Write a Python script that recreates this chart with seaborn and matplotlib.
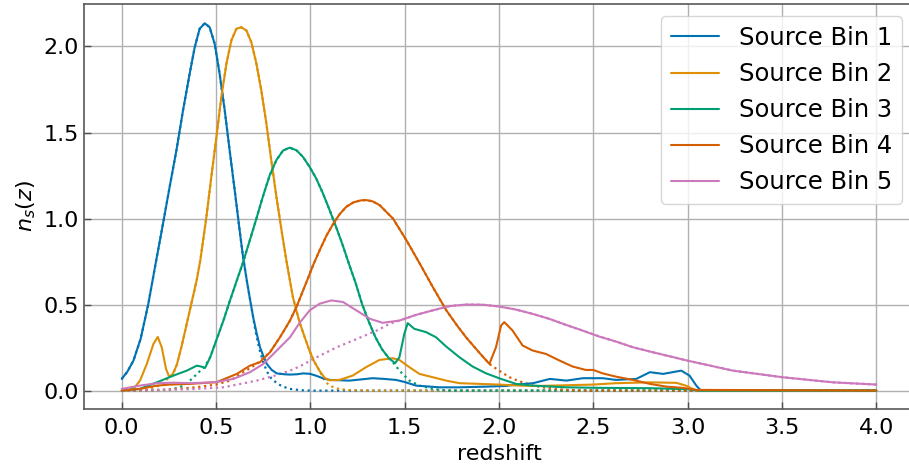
import numpy as np
import matplotlib
matplotlib.use("Agg")
import matplotlib.pyplot as plt
from matplotlib.ticker import FormatStrFormatter
import seaborn as sns

# solid n(z) curves (redshift, n_s)
z_bin1 = [0.0, 0.03, 0.062, 0.1, 0.141, 0.18, 0.219, 0.254, 0.29, 0.325, 0.36, 0.387, 0.413,
          0.44, 0.466, 0.493, 0.519, 0.546, 0.572, 0.599, 0.625, 0.643, 0.663, 0.68, 0.698,
          0.716, 0.733, 0.751, 0.769, 0.795, 0.822, 0.86, 0.892, 0.93, 0.963, 1.0, 1.034,
          1.07, 1.104, 1.207, 1.27, 1.33, 1.39, 1.454, 1.5, 1.56, 1.684, 1.79, 1.93, 2.037,
          2.09, 2.18, 2.27, 2.357, 2.445, 2.55, 2.62, 2.728, 2.8, 2.87, 2.966, 3.01, 3.046,
          3.07, 4.0]
n_bin1 = [0.068, 0.11, 0.174, 0.3, 0.504, 0.74, 0.971, 1.184, 1.397, 1.629, 1.841, 1.996,
          2.103, 2.135, 2.112, 2.015, 1.841, 1.629, 1.397, 1.164, 0.932, 0.778, 0.64, 0.53,
          0.42, 0.33, 0.252, 0.2, 0.155, 0.12, 0.1, 0.095, 0.093, 0.095, 0.1, 0.097, 0.085,
          0.07, 0.062, 0.058, 0.065, 0.072, 0.068, 0.062, 0.05, 0.029, 0.019, 0.019, 0.023,
          0.027, 0.035, 0.043, 0.068, 0.058, 0.072, 0.072, 0.062, 0.068, 0.107, 0.097, 0.116,
          0.087, 0.029, 0.0, 0.0]

z_bin2 = [0.0, 0.062, 0.097, 0.133, 0.168, 0.191, 0.212, 0.235, 0.251, 0.27, 0.292, 0.318,
          0.345, 0.37, 0.398, 0.417, 0.449, 0.475, 0.502, 0.528, 0.555, 0.581, 0.608, 0.634,
          0.661, 0.687, 0.714, 0.74, 0.767, 0.793, 0.82, 0.846, 0.873, 0.908, 0.942, 0.97,
          0.995, 1.02, 1.048, 1.075, 1.1, 1.154, 1.224, 1.295, 1.366, 1.436, 1.472, 1.525,
          1.578, 1.648, 1.72, 1.79, 1.896, 2.0, 2.108, 2.214, 2.355, 2.5, 2.62, 2.8, 2.94,
          2.99, 3.046, 4.0]
n_bin2 = [0.0, 0.01, 0.058, 0.155, 0.271, 0.312, 0.252, 0.126, 0.081, 0.095, 0.15, 0.26,
          0.39, 0.51, 0.645, 0.76, 1.01, 1.242, 1.474, 1.706, 1.9, 2.035, 2.103, 2.112,
          2.093, 2.025, 1.9, 1.745, 1.551, 1.338, 1.126, 0.94, 0.755, 0.54, 0.4, 0.31,
          0.233, 0.17, 0.116, 0.075, 0.06, 0.062, 0.087, 0.136, 0.178, 0.188, 0.178, 0.136,
          0.097, 0.078, 0.058, 0.043, 0.039, 0.035, 0.029, 0.027, 0.031, 0.035, 0.043, 0.048,
          0.045, 0.029, 0.0, 0.0]

z_bin3 = [0.0, 0.097, 0.186, 0.274, 0.345, 0.398, 0.42, 0.442, 0.469, 0.504, 0.539, 0.574,
          0.61, 0.643, 0.678, 0.714, 0.749, 0.784, 0.82, 0.855, 0.89, 0.926, 0.961, 0.996,
          1.03, 1.065, 1.1, 1.135, 1.17, 1.205, 1.24, 1.275, 1.31, 1.345, 1.38, 1.415, 1.449,
          1.472, 1.498, 1.516, 1.551, 1.613, 1.666, 1.72, 1.79, 1.86, 1.93, 2.0, 2.09, 2.178,
          2.355, 2.53, 2.8, 3.01, 3.06, 4.0]
n_bin3 = [0.0, 0.01, 0.048, 0.087, 0.116, 0.145, 0.14, 0.132, 0.194, 0.3, 0.407, 0.524,
          0.64, 0.745, 0.87, 1.0, 1.13, 1.25, 1.34, 1.395, 1.412, 1.397, 1.358, 1.3, 1.235,
          1.15, 1.055, 0.955, 0.85, 0.735, 0.625, 0.5, 0.4, 0.31, 0.24, 0.19, 0.159, 0.194,
          0.33, 0.392, 0.359, 0.34, 0.31, 0.256, 0.194, 0.14, 0.101, 0.072, 0.039, 0.029,
          0.019, 0.016, 0.014, 0.008, 0.0, 0.0]

z_bin4 = [0.0, 0.097, 0.186, 0.256, 0.362, 0.503, 0.61, 0.68, 0.733, 0.786, 0.839, 0.892,
          0.926, 0.979, 1.015, 1.049, 1.085, 1.12, 1.155, 1.19, 1.23, 1.27, 1.297, 1.33,
          1.367, 1.438, 1.509, 1.58, 1.65, 1.721, 1.78, 1.825, 1.896, 1.949, 1.984, 2.011,
          2.028, 2.072, 2.125, 2.178, 2.249, 2.32, 2.39, 2.46, 2.5, 2.55, 2.62, 2.71, 2.8,
          2.886, 2.974, 3.046, 4.0]
n_bin4 = [0.0, 0.01, 0.029, 0.035, 0.039, 0.049, 0.097, 0.145, 0.165, 0.223, 0.31, 0.407,
          0.485, 0.63, 0.73, 0.815, 0.9, 0.967, 1.025, 1.068, 1.095, 1.106, 1.107, 1.1,
          1.078, 1.0, 0.874, 0.738, 0.6, 0.466, 0.375, 0.31, 0.22, 0.155, 0.252, 0.378,
          0.398, 0.349, 0.262, 0.233, 0.213, 0.175, 0.14, 0.12, 0.12, 0.1, 0.081, 0.062,
          0.039, 0.023, 0.016, 0.004, 0.0]

z_bin5 = [0.0, 0.097, 0.186, 0.274, 0.362, 0.5, 0.592, 0.68, 0.751, 0.822, 0.892, 0.942,
          0.996, 1.049, 1.111, 1.173, 1.244, 1.316, 1.383, 1.472, 1.56, 1.648, 1.737, 1.825,
          1.914, 2.0, 2.09, 2.178, 2.267, 2.355, 2.443, 2.532, 2.62, 2.71, 2.8, 3.0, 3.24,
          3.5, 3.77, 4.0]
n_bin5 = [0.01, 0.029, 0.043, 0.046, 0.043, 0.049, 0.068, 0.107, 0.155, 0.233, 0.31, 0.392,
          0.466, 0.505, 0.524, 0.515, 0.466, 0.417, 0.394, 0.407, 0.44, 0.466, 0.491, 0.5,
          0.499, 0.489, 0.471, 0.446, 0.417, 0.382, 0.349, 0.314, 0.285, 0.252, 0.227, 0.174,
          0.116, 0.078, 0.048, 0.035]

# dotted (smooth) n(z) curves
zd_bin1 = [0.0, 0.03, 0.062, 0.1, 0.141, 0.18, 0.219, 0.254, 0.29, 0.325, 0.36, 0.387, 0.413,
           0.44, 0.466, 0.493, 0.519, 0.546, 0.572, 0.599, 0.625, 0.643, 0.663, 0.69, 0.71,
           0.73, 0.75, 0.77, 0.79, 0.82, 0.85, 0.89, 0.95, 1.0, 4.0]
nd_bin1 = [0.068, 0.11, 0.174, 0.3, 0.504, 0.74, 0.971, 1.184, 1.397, 1.629, 1.841, 1.996,
           2.103, 2.135, 2.112, 2.015, 1.841, 1.629, 1.397, 1.164, 0.932, 0.778, 0.64, 0.47,
           0.34, 0.24, 0.165, 0.11, 0.075, 0.045, 0.025, 0.01, 0.002, 0.0, 0.0]

zd_bin2 = [0.0, 0.1, 0.15, 0.2, 0.251, 0.27, 0.292, 0.318, 0.345, 0.37, 0.398, 0.417, 0.449,
           0.475, 0.502, 0.528, 0.555, 0.581, 0.608, 0.634, 0.661, 0.687, 0.714, 0.74, 0.767,
           0.793, 0.82, 0.846, 0.873, 0.908, 0.942, 0.97, 0.995, 1.02, 1.048, 1.075, 1.1,
           1.14, 1.2, 1.3, 4.0]
nd_bin2 = [0.0, 0.003, 0.01, 0.03, 0.075, 0.09, 0.15, 0.26, 0.39, 0.51, 0.645, 0.76, 1.01,
           1.242, 1.474, 1.706, 1.9, 2.035, 2.103, 2.112, 2.093, 2.025, 1.9, 1.745, 1.551,
           1.338, 1.126, 0.94, 0.755, 0.54, 0.4, 0.31, 0.233, 0.17, 0.116, 0.06, 0.03,
           0.012, 0.003, 0.0, 0.0]

zd_bin3 = [0.0, 0.25, 0.309, 0.362, 0.44, 0.469, 0.504, 0.539, 0.574, 0.61, 0.643, 0.678,
           0.714, 0.749, 0.784, 0.82, 0.855, 0.89, 0.926, 0.961, 0.996, 1.03, 1.065, 1.1,
           1.135, 1.17, 1.205, 1.24, 1.275, 1.31, 1.345, 1.38, 1.415, 1.449, 1.472, 1.525,
           1.578, 1.648, 1.72, 4.0]
nd_bin3 = [0.0, 0.004, 0.019, 0.058, 0.14, 0.194, 0.3, 0.407, 0.524, 0.64, 0.745, 0.87,
           1.0, 1.13, 1.25, 1.34, 1.395, 1.412, 1.397, 1.358, 1.3, 1.235, 1.15, 1.055,
           0.955, 0.85, 0.735, 0.625, 0.5, 0.4, 0.31, 0.24, 0.19, 0.15, 0.116, 0.058,
           0.029, 0.01, 0.0, 0.0]

zd_bin4 = [0.0, 0.2, 0.3, 0.4, 0.5, 0.574, 0.645, 0.716, 0.786, 0.839, 0.892, 0.926, 0.979,
           1.015, 1.049, 1.085, 1.12, 1.155, 1.19, 1.23, 1.27, 1.297, 1.33, 1.367, 1.438,
           1.509, 1.58, 1.65, 1.721, 1.78, 1.825, 1.896, 1.949, 2.0, 2.055, 2.108, 2.178,
           2.25, 2.355, 2.45, 4.0]
nd_bin4 = [0.0, 0.003, 0.01, 0.02, 0.035, 0.058, 0.107, 0.155, 0.223, 0.31, 0.407, 0.485,
           0.63, 0.73, 0.815, 0.9, 0.967, 1.025, 1.068, 1.095, 1.106, 1.107, 1.1, 1.078, 1.0,
           0.874, 0.738, 0.6, 0.466, 0.375, 0.31, 0.22, 0.155, 0.116, 0.078, 0.054, 0.029,
           0.016, 0.004, 0.0, 0.0]

zd_bin5 = [0.0, 0.362, 0.539, 0.716, 0.822, 0.892, 0.942, 1.034, 1.14, 1.246, 1.352, 1.42,
           1.472, 1.56, 1.648, 1.737, 1.825, 1.914, 2.0, 2.09, 2.178, 2.267, 2.355, 2.443,
           2.532, 2.62, 2.71, 2.8, 3.0, 3.24, 3.5, 3.77, 4.0]
nd_bin5 = [0.0, 0.008, 0.019, 0.058, 0.09, 0.116, 0.14, 0.194, 0.252, 0.3, 0.349, 0.388,
           0.407, 0.44, 0.466, 0.491, 0.5, 0.499, 0.489, 0.471, 0.446, 0.417, 0.382, 0.349,
           0.314, 0.285, 0.252, 0.227, 0.174, 0.116, 0.078, 0.048, 0.035]

labels = ["Source Bin 1", "Source Bin 2", "Source Bin 3", "Source Bin 4", "Source Bin 5"]
solid = [(z_bin1, n_bin1), (z_bin2, n_bin2), (z_bin3, n_bin3), (z_bin4, n_bin4), (z_bin5, n_bin5)]
dotted = [(zd_bin1, nd_bin1), (zd_bin2, nd_bin2), (zd_bin3, nd_bin3), (zd_bin4, nd_bin4),
          (zd_bin5, nd_bin5)]

sns.set_theme(style="whitegrid", palette="colorblind")
plt.rcParams["font.family"] = ["DejaVu Sans"]
plt.rcParams["text.color"] = "black"
plt.rcParams["axes.labelcolor"] = "black"
colors = sns.color_palette("colorblind", 5)

fig = plt.figure(figsize=(9.09, 4.69), dpi=100)
# axes runs past the right edge of the picture, as in the cropped original
ax = fig.add_axes([84 / 909, 60 / 469, 830 / 909, 405 / 469])

for i in range(5):
    zs, ns = dotted[i]
    sns.lineplot(x=zs, y=ns, ax=ax, color=colors[i], linestyle=":", linewidth=1.6,
                 legend=False)
for i in range(5):
    zs, ns = solid[i]
    sns.lineplot(x=zs, y=ns, ax=ax, color=colors[i], linewidth=1.5, label=labels[i])

ax.set_xlim(-0.2, 4.2)
ax.set_ylim(-0.107, 2.247)
ax.set_xticks(np.arange(0, 4.01, 0.5))
ax.set_yticks([0.0, 0.5, 1.0, 1.5, 2.0])
ax.xaxis.set_major_formatter(FormatStrFormatter("%.1f"))
ax.yaxis.set_major_formatter(FormatStrFormatter("%.1f"))
ax.tick_params(direction="in", length=5, width=1, color="0.3", labelsize=16,
               labelcolor="black", bottom=True, left=True, pad=3.5)
ax.tick_params(axis="x", pad=6.5)
ax.grid(True, color="#b0b0b0", linewidth=1)
for s in ax.spines.values():
    s.set_color("0.35")
    s.set_linewidth(1.2)

ax.set_xlabel("redshift", fontsize=16, labelpad=4)
ax.set_ylabel("$n_s(z)$", fontsize=16, labelpad=4)

ax.legend(loc="upper right", fontsize=17.5, frameon=True, edgecolor="0.8",
          framealpha=0.8, facecolor="white")

fig.savefig("out.png", dpi=100)
